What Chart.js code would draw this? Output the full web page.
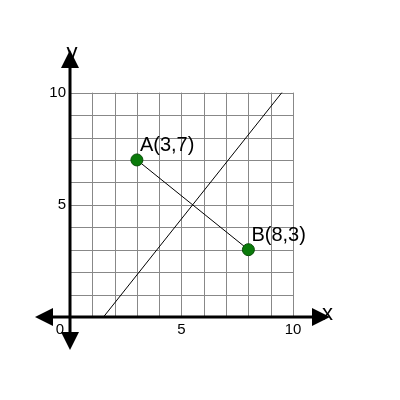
<!DOCTYPE html>
<html><head><script src="https://cdn.jsdelivr.net/npm/chart.js@4"></script>
<style>body{margin:0;background:#fff}</style></head>
<body><div style="width:400px;height:400px"><canvas id="c"></canvas></div>
<script>
const pointNames = ["A(3,7)", "B(8,3)"];
const pointX = [3, 8];
const pointY = [7, 3];
const lineX = [1.5, 9.5];
const lineY = [0, 10];
const xTicks = [0, 5, 10];
const yTicks = [5, 10];

const gridPlugin = {
  id: 'grid',
  beforeDatasetsDraw(chart) {
    const {ctx, scales: {x, y}} = chart;
    ctx.save();
    ctx.strokeStyle = '#888'; ctx.lineWidth = 1;
    for (let i = 0; i <= 10; i++) {
      ctx.beginPath();
      ctx.moveTo(Math.round(x.getPixelForValue(i)) + .5, y.getPixelForValue(0));
      ctx.lineTo(Math.round(x.getPixelForValue(i)) + .5, y.getPixelForValue(10));
      ctx.stroke();
      ctx.beginPath();
      ctx.moveTo(x.getPixelForValue(0), Math.round(y.getPixelForValue(i)) + .5);
      ctx.lineTo(x.getPixelForValue(10), Math.round(y.getPixelForValue(i)) + .5);
      ctx.stroke();
    }
    // axes
    ctx.strokeStyle = '#000'; ctx.fillStyle = '#000'; ctx.lineWidth = 3;
    const x0 = x.getPixelForValue(0), y0 = y.getPixelForValue(0);
    const L = x.left, R = x.right, T = y.top, B = y.bottom;
    ctx.beginPath(); ctx.moveTo(L + 10, y0); ctx.lineTo(R - 10, y0); ctx.stroke();
    ctx.beginPath(); ctx.moveTo(x0, T + 10); ctx.lineTo(x0, B - 10); ctx.stroke();
    const tri = (a, b, c) => { ctx.beginPath(); ctx.moveTo(...a); ctx.lineTo(...b); ctx.lineTo(...c); ctx.closePath(); ctx.fill(); };
    tri([L, y0], [L + 18, y0 - 9], [L + 18, y0 + 9]);
    tri([R, y0], [R - 18, y0 - 9], [R - 18, y0 + 9]);
    tri([x0, T], [x0 - 9, T + 18], [x0 + 9, T + 18]);
    tri([x0, B], [x0 - 9, B - 18], [x0 + 9, B - 18]);
    ctx.font = '15px "Liberation Sans", Arial';
    ctx.textAlign = 'center'; ctx.textBaseline = 'top';
    xTicks.forEach(v => ctx.fillText(String(v), x.getPixelForValue(v) - (v === 0 ? 10 : 0), y0 + 5));
    ctx.textAlign = 'right'; ctx.textBaseline = 'middle';
    yTicks.forEach(v => ctx.fillText(String(v), x0 - 4, y.getPixelForValue(v)));
    ctx.font = '22px "Liberation Sans", Arial';
    ctx.textAlign = 'left'; ctx.fillText('x', R - 8, y0 - 3);
    ctx.textAlign = 'center'; ctx.textBaseline = 'bottom'; ctx.fillText('y', x0 + 2, T + 14);
    ctx.restore();
  },
  afterDatasetsDraw(chart) {
    const {ctx, scales: {x, y}} = chart;
    ctx.save();
    ctx.font = '20px "Liberation Sans", Arial'; ctx.fillStyle = '#000';
    ctx.textAlign = 'left'; ctx.textBaseline = 'bottom';
    pointNames.forEach((n, i) => ctx.fillText(n, x.getPixelForValue(pointX[i]) + 3, y.getPixelForValue(pointY[i]) - 4));
    ctx.restore();
  }
};

new Chart(document.getElementById('c'), {
  type: 'scatter',
  data: { datasets: [
    { data: lineX.map((v, i) => ({x: v, y: lineY[i]})), showLine: true, borderColor: '#000', borderWidth: 1, pointRadius: 0 },
    { data: pointX.map((v, i) => ({x: v, y: pointY[i]})), showLine: true, borderColor: '#000', borderWidth: 1,
      pointRadius: 6, pointBackgroundColor: '#0a7a0a', pointBorderColor: '#064d06', pointBorderWidth: 1 }
  ]},
  options: {
    responsive: true, maintainAspectRatio: false, animation: false,
    layout: { padding: { left: 35, right: 70, top: 50, bottom: 50 } },
    plugins: { legend: { display: false }, tooltip: { enabled: false } },
    scales: {
      x: { type: 'linear', min: -1.57, max: 11.66, display: false },
      y: { type: 'linear', min: -1.47, max: 11.9, display: false }
    }
  },
  plugins: [gridPlugin]
});
</script></body></html>
